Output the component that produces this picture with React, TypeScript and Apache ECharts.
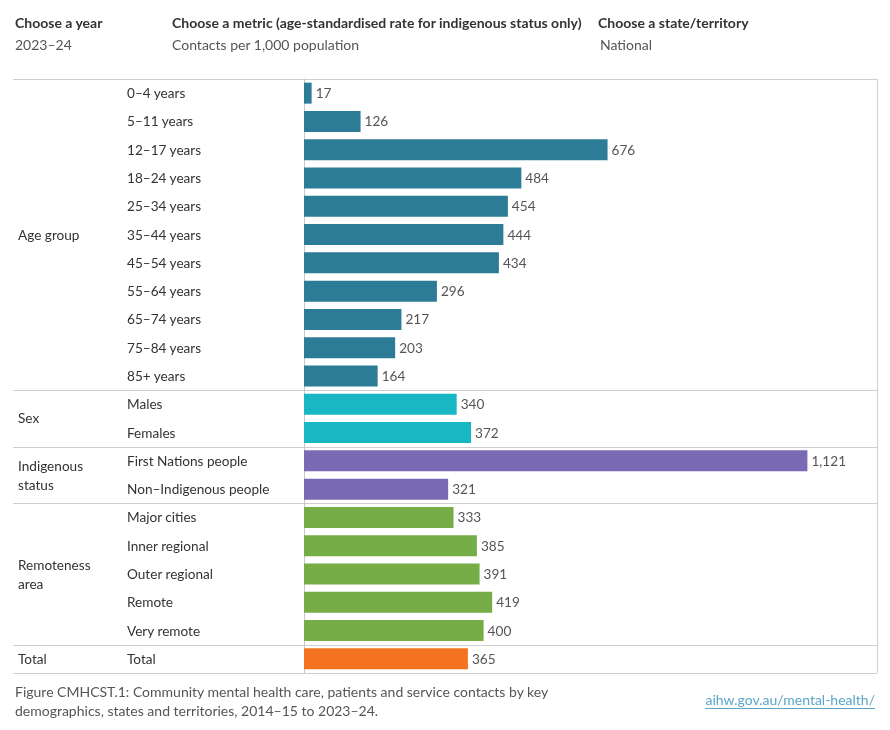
import React, { useEffect, useRef } from "react";
import * as echarts from "echarts";

const categories = [
  "0–4 years", "5–11 years", "12–17 years", "18–24 years", "25–34 years",
  "35–44 years", "45–54 years", "55–64 years", "65–74 years", "75–84 years",
  "85+ years", "Males", "Females", "First Nations people", "Non–Indigenous people",
  "Major cities", "Inner regional", "Outer regional", "Remote", "Very remote", "Total",
];
const values = [17, 126, 676, 484, 454, 444, 434, 296, 217, 203, 164, 340, 372, 1121, 321, 333, 385, 391, 419, 400, 365];
const groupNames = ["Age group", "Sex", "Indigenous\nstatus", "Remoteness\narea", "Total"];
const groupSizes = [11, 2, 2, 5, 1];
const groupColors = ["#2d7c97", "#17b8c4", "#7a69b4", "#76ad47", "#f47321"];
const xMax = 1276;

const headerTitles = ["Choose a year", "Choose a metric (age-standardised rate for indigenous status only)", "Choose a state/territory"];
const headerValues = ["2023–24", "Contacts per 1,000 population", "National"];
const footerLines = [
  "Figure CMHCST.1: Community mental health care, patients and service contacts by key",
  "demographics, states and territories, 2014–15 to 2023–24.",
];
const footerLink = "aihw.gov.au/mental-health/";

const FONT = "Lato";

export default function App() {
  const ref = useRef<HTMLDivElement>(null);
  useEffect(() => {
    if (!ref.current) return;
    const chart = echarts.init(ref.current, null, { renderer: "svg" });
    const colorFor: string[] = [];
    groupSizes.forEach((n, gi) => { for (let i = 0; i < n; i++) colorFor.push(groupColors[gi]); });
    const gridLeft = 304, gridRight = 877, gridTop = 79, gridBottom = 673;
    chart.setOption({
      animation: false,
      textStyle: { fontFamily: FONT },
      grid: { left: gridLeft, right: 890 - gridRight, top: gridTop, bottom: 730 - gridBottom, containLabel: false },
      xAxis: { type: "value", min: 0, max: xMax, show: false, splitLine: { show: false } },
      yAxis: {
        type: "category", data: categories, inverse: true,
        axisLine: { show: true, lineStyle: { color: "#c8c8c8", width: 1 } },
        axisTick: { show: false },
        axisLabel: { align: "left", margin: gridLeft - 127, color: "#333", fontSize: 13.6, fontFamily: FONT },
        splitLine: { show: false },
      },
      series: [{
        type: "bar", barWidth: 21,
        data: values.map((v, i) => ({ value: v, itemStyle: { color: colorFor[i] } })),
        label: {
          show: true, position: "right", distance: 4, color: "#555", fontSize: 13.6, fontFamily: FONT,
          formatter: (p: any) => Number(p.value).toLocaleString("en-US"),
        },
      }],
    });
    const y0 = chart.convertToPixel({ yAxisIndex: 0 }, 0) as number;
    const y1 = chart.convertToPixel({ yAxisIndex: 0 }, 1) as number;
    const band = y1 - y0;
    const lineStyle = { stroke: "#cfcfcf", lineWidth: 1 };
    const graphics: any[] = [];
    graphics.push({ type: "line", shape: { x1: 13, y1: gridTop + 0.5, x2: gridRight, y2: gridTop + 0.5 }, style: lineStyle });
    graphics.push({ type: "line", shape: { x1: gridRight + 0.5, y1: gridTop, x2: gridRight + 0.5, y2: gridBottom }, style: lineStyle });
    let start = 0;
    groupSizes.forEach((n, gi) => {
      const end = start + n - 1;
      const cStart = chart.convertToPixel({ yAxisIndex: 0 }, start) as number;
      const cEnd = chart.convertToPixel({ yAxisIndex: 0 }, end) as number;
      const mid = (cStart + cEnd) / 2;
      const bottom = Math.round(cEnd + band / 2) + 0.5;
      graphics.push({ type: "line", shape: { x1: 13, y1: bottom, x2: gridRight, y2: bottom }, style: lineStyle });
      graphics.push({
        type: "text", x: 18, y: mid,
        style: { text: groupNames[gi], fill: "#333", font: `13.6px ${FONT}`, verticalAlign: "middle", align: "left", lineHeight: 19 },
      });
      start = end + 1;
    });
    const headerX = [15, 172, 598];
    const valueX = [15, 172, 600];
    headerTitles.forEach((t, i) => {
      graphics.push({ type: "text", x: headerX[i], y: 22, style: { text: t, fill: "#333", font: `bold 14px ${FONT}`, verticalAlign: "middle" } });
      graphics.push({ type: "text", x: valueX[i], y: 44, style: { text: headerValues[i], fill: "#555", font: `14px ${FONT}`, verticalAlign: "middle" } });
    });
    footerLines.forEach((t, i) => {
      graphics.push({ type: "text", x: 15, y: 691 + i * 19, style: { text: t, fill: "#555", font: `14px ${FONT}`, verticalAlign: "middle" } });
    });
    graphics.push({ type: "text", x: 875, y: 699, style: { text: footerLink, fill: "#5aa6c8", font: `14px ${FONT}`, verticalAlign: "middle", align: "right" } });
    graphics.push({ type: "line", shape: { x1: 705, y1: 708.5, x2: 875, y2: 708.5 }, style: { stroke: "#5aa6c8", lineWidth: 1 } });
    chart.setOption({ graphic: graphics });
    return () => chart.dispose();
  }, []);
  return <div ref={ref} style={{ position: "fixed", left: 0, top: 0, width: 890, height: 730 }} />;
}
